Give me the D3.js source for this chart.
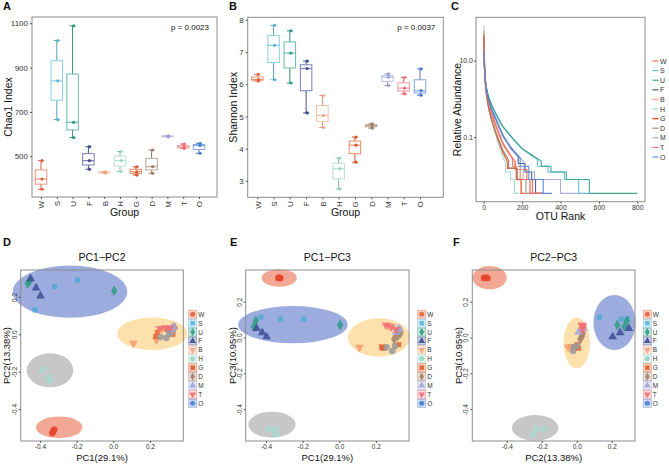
<!DOCTYPE html>
<html>
<head>
<meta charset="utf-8">
<script src="https://cdn.jsdelivr.net/npm/d3@7"></script>
<style>
  body { margin: 0; background: #fff; }
  text { font-family: "Liberation Sans", Arial, sans-serif; }
</style>
</head>
<body>
<svg width="669" height="465"></svg>
<script>
// groups and their colours / shapes
var groups = ["W","S","U","F","B","H","G","D","M","T","O"];
var colors = ["#E8643F","#5BB8D8","#2F9C84","#3C4D94","#F4A582","#98D5C4","#E05A2B","#A2806A","#9EA3D6","#EE6F74","#4F80D2"];
var pointColors = ["#E8432B","#4FA9D6","#2F9C84","#3C4D94","#F79A6C","#A8D8CB","#E8602E","#A2806A","#A4A8D8","#EE6F74","#9A9A9A"];
var shapes = ["circle","square","diamond","tri","tridown","circle","square","diamond","tri","tridown","circle"];

// alpha diversity, 3 samples per group
var chao1 = [[480,397,351],[1022,840,665],[1088,653,584],[543,480,441],[430,427,424],[521,480,431],
             [452,430,415],[528,453,423],[592,590,587],[555,541,535],[558,548,513]];
var shannon = [[6.31,6.15,6.10],[7.83,7.21,6.14],[7.66,6.97,6.04],[6.72,6.49,5.11],[5.65,5.03,4.66],[3.71,3.38,2.75],
               [4.36,4.11,3.58],[4.77,4.72,4.64],[6.32,6.22,5.96],[6.21,5.88,5.70],[6.48,5.80,5.66]];
var chaoTicks = [500,700,900,1100];
var shannonTicks = [3,4,5,6,7,8];

// rank abundance curves [rank, relative abundance %]
var rankW = [[1,62],[3,14],[8,3.6],[14,1.8],[20,1.1],[30,0.7],[40,0.45],[55,0.27],[70,0.17],[85,0.11],[100,0.07],[140,0.033],[165,0.022],[165,0.014],[225,0.014],[225,0.0076],[255,0.0076],[255,0.0033],[300,0.0033]];
var rankS = [[1,28],[3,9],[8,3.2],[14,2],[20,1.4],[30,0.95],[40,0.7],[55,0.47],[70,0.33],[85,0.24],[100,0.18],[150,0.09],[200,0.048],[250,0.032],[280,0.026],[280,0.017],[335,0.017],[335,0.012],[420,0.012],[420,0.0076],[495,0.0076],[495,0.0033],[550,0.0033]];
var rankU = [[1,35],[3,10],[8,3.3],[14,2.1],[20,1.45],[30,0.98],[40,0.72],[55,0.5],[70,0.36],[85,0.26],[100,0.19],[150,0.095],[200,0.05],[250,0.034],[300,0.023],[300,0.017],[350,0.017],[350,0.012],[430,0.012],[430,0.0076],[550,0.0076],[550,0.0033],[800,0.0033]];
var rankF = [[1,20],[3,8],[8,3],[14,1.8],[20,1.25],[30,0.8],[40,0.55],[55,0.36],[70,0.24],[85,0.16],[100,0.11],[140,0.05],[180,0.03],[180,0.02],[215,0.02],[215,0.012],[250,0.012],[250,0.0076],[270,0.0076],[270,0.0033],[310,0.0033]];
var rankB = [[1,25],[3,9],[8,3],[14,1.6],[20,1.0],[30,0.62],[40,0.4],[55,0.24],[70,0.15],[85,0.095],[100,0.065],[130,0.036],[160,0.022],[160,0.014],[205,0.014],[205,0.0076],[245,0.0076],[245,0.0033],[295,0.0033]];
var rankH = [[1,83],[3,10],[8,2.4],[14,1.2],[20,0.75],[30,0.44],[40,0.28],[55,0.15],[70,0.085],[85,0.05],[100,0.03],[115,0.02],[115,0.012],[140,0.012],[140,0.0076],[160,0.0076],[160,0.0033],[185,0.0033]];
var rankG = [[1,48],[3,11],[8,3],[14,1.4],[20,0.85],[30,0.48],[40,0.3],[55,0.17],[70,0.1],[85,0.062],[100,0.04],[125,0.022],[125,0.015],[170,0.015],[170,0.0076],[195,0.0076],[195,0.0033],[215,0.0033]];
var rankD = [[1,40],[3,10],[8,2.8],[14,1.35],[20,0.8],[30,0.48],[40,0.3],[55,0.18],[70,0.11],[85,0.07],[100,0.045],[130,0.025],[130,0.015],[175,0.015],[175,0.0076],[220,0.0076],[220,0.0033],[300,0.0033]];
var rankM = [[1,22],[3,8],[8,3],[14,1.75],[20,1.2],[30,0.75],[40,0.5],[55,0.32],[70,0.22],[85,0.15],[100,0.1],[150,0.045],[210,0.022],[210,0.012],[265,0.012],[265,0.0076],[400,0.0076],[400,0.0033],[495,0.0033]];
var rankT = [[1,30],[3,10],[8,3.2],[14,1.65],[20,1.05],[30,0.65],[40,0.42],[55,0.25],[70,0.16],[85,0.1],[100,0.062],[150,0.028],[150,0.017],[190,0.017],[190,0.0076],[240,0.0076],[240,0.0033],[305,0.0033]];
var rankO = [[1,18],[3,7.5],[8,2.9],[14,1.75],[20,1.2],[30,0.8],[40,0.56],[55,0.38],[70,0.26],[85,0.17],[100,0.11],[140,0.055],[190,0.028],[190,0.017],[235,0.017],[235,0.0076],[310,0.0076],[310,0.0033],[355,0.0033]];
var rankAbund = [rankW,rankS,rankU,rankF,rankB,rankH,rankG,rankD,rankM,rankT,rankO];
var rankTicks = [0,200,400,600,800];
var abundTicks = [10,0.1];

// PCA scores, 3 samples per group
var pc1 = [[-0.333,-0.322,-0.328],[-0.427,-0.32,-0.195],[-0.455,-0.467,0.005],[-0.451,-0.421,-0.397],[0.11,0.235,0.27],[-0.387,-0.351,-0.347],
           [0.232,0.325,0.24],[0.30,0.32,0.335],[0.33,0.32,0.31],[0.255,0.285,0.31],[0.258,0.29,0.305]];
var pc2 = [[-0.53,-0.51,-0.52],[0.13,0.255,0.29],[0.286,0.272,0.232],[0.298,0.248,0.205],[-0.048,-0.03,0.03],[-0.19,-0.232,-0.252],
           [-0.012,0.0,0.01],[0.02,0.03,0.035],[0.04,0.025,0.01],[0.03,0.035,0.032],[-0.015,-0.02,0.0]];
var pc3 = [[0.332,0.331,0.335],[0.113,0.103,0.103],[0.094,0.06,0.07],[0.051,0.027,0.004],[-0.055,-0.05,0.065],[-0.511,-0.511,-0.539],
           [-0.055,-0.04,-0.06],[-0.01,0.008,0.025],[0.05,0.045,0.03],[0.07,0.06,0.045],[-0.055,-0.075,-0.048]];
var pcTicks = [-0.4,-0.2,0.0,0.2];
// cluster ellipses [cx, cy, rx, ry] : blue, orange, grey, red
var ell12 = [[-0.236,0.228,0.3125,0.14],[0.213,0.003,0.191,0.087],[-0.345,-0.193,0.127,0.091],[-0.295,-0.498,0.127,0.058]];
var ell13 = [[-0.253,0.0715,0.299,0.104],[0.217,0.0,0.169,0.107],[-0.368,-0.486,0.129,0.072],[-0.328,0.332,0.096,0.049]];
var ell23 = [[0.216,0.084,0.121,0.154],[0.0,-0.03,0.076,0.142],[-0.238,-0.505,0.133,0.072],[-0.498,0.334,0.098,0.065]];
var ellFill = ["#5B74C8","#FBC35A","#8F8F8F","#E8603C"];
var ellAlpha = [0.6,0.5,0.5,0.55];

var svg = d3.select("svg");

function frame(x0, y0, x1, y1) {
  svg.append("rect").attr("x", x0).attr("y", y0)
    .attr("width", x1 - x0).attr("height", y1 - y0)
    .attr("fill", "none").attr("stroke", "#8c8c8c").attr("stroke-width", 1);
}

function styleAxis(g, size) {
  g.select(".domain").remove();
  g.selectAll(".tick line").attr("stroke", "#555");
  g.selectAll(".tick text").attr("fill", "#333").style("font-size", size + "px");
}

function label(txt, x, y, size, opts) {
  opts = opts || {};
  var t = svg.append("text").attr("x", x).attr("y", y)
    .style("font-size", size + "px").attr("fill", opts.fill || "#111")
    .style("text-anchor", opts.anchor || "start")
    .style("font-weight", opts.bold ? "bold" : "normal")
    .text(txt);
  if (opts.rot) t.attr("transform", "rotate(-90," + x + "," + y + ")");
  return t;
}

function symbolPath(s, size) {
  var type = {circle: d3.symbolCircle, square: d3.symbolSquare, diamond: d3.symbolDiamond,
              tri: d3.symbolTriangle, tridown: d3.symbolTriangle}[s];
  return d3.symbol().type(type).size(size)();
}

// ---------- box plots (A, B) ----------
function boxPanel(o) {
  var x = d3.scalePoint().domain(groups).range(o.xr);
  var y = d3.scaleLinear().domain(o.ydom).range([o.y1, o.y0]);
  var bw = 11.5, cw = 6;
  var g = svg.append("g");
  o.vals.forEach(function(vals, i) {
    var v = vals.slice().sort(d3.ascending);
    var q1 = d3.quantile(v, 0.25), med = d3.quantile(v, 0.5), q3 = d3.quantile(v, 0.75);
    var cx = x(groups[i]);
    var dark = d3.color(colors[i]).darker(0.6).formatHex();
    var light = d3.interpolateRgb(colors[i], "#fff")(0.3);
    g.append("line").attr("x1", cx).attr("x2", cx).attr("y1", y(v[0])).attr("y2", y(v[2]))
      .attr("stroke", dark).attr("stroke-width", 0.9);
    [v[0], v[2]].forEach(function(c) {
      g.append("line").attr("x1", cx - cw / 2).attr("x2", cx + cw / 2).attr("y1", y(c)).attr("y2", y(c))
        .attr("stroke", dark).attr("stroke-width", 0.9);
    });
    g.append("rect").attr("x", cx - bw / 2).attr("width", bw)
      .attr("y", y(q3)).attr("height", Math.max(0.5, y(q1) - y(q3)))
      .attr("fill", "#fff").attr("stroke", light).attr("stroke-width", 1);
    g.append("line").attr("x1", cx - bw / 2).attr("x2", cx + bw / 2).attr("y1", y(med)).attr("y2", y(med))
      .attr("stroke", light).attr("stroke-width", 1.2);
    v.forEach(function(p) {
      g.append("circle").attr("cx", cx + 1).attr("cy", y(p)).attr("r", 1.6).attr("fill", colors[i]);
    });
  });
  frame(o.fx0, o.y0, o.fx1, o.y1);
  var ya = svg.append("g").attr("transform", "translate(" + o.fx0 + ",0)")
    .call(d3.axisLeft(y).tickValues(o.ticks).tickFormat(d3.format("d")).tickSize(2).tickPadding(2));
  styleAxis(ya, 8);
  var xa = svg.append("g").attr("transform", "translate(0," + o.y1 + ")")
    .call(d3.axisBottom(x).tickSize(2));
  styleAxis(xa, 8);
  xa.selectAll(".tick text").attr("transform", "rotate(-90)")
    .attr("x", -4).attr("y", 0).attr("dy", "0.35em").style("text-anchor", "end");
  label(o.ytitle, o.ytx, (o.y0 + o.y1) / 2, 10.5, {anchor: "middle", rot: true});
  label("Group", (o.fx0 + o.fx1) / 2, 215.5, 10.5, {anchor: "middle"});
  label(o.ptext, o.fx1 - 8, 29.5, 8, {anchor: "end"});
  label(o.letter, o.lx, 10, 11, {bold: true});
}

boxPanel({vals: chao1, xr: [41, 199], ydom: [316, 1128], y0: 17, y1: 197, fx0: 32, fx1: 217,
  ticks: chaoTicks, ytitle: "Chao1 Index", ytx: 11.5, ptext: "p = 0.0023", letter: "A", lx: 3});
boxPanel({vals: shannon, xr: [257.3, 420], ydom: [2.49, 8.08], y0: 17.3, y1: 197.3, fx0: 247.7, fx1: 443.3,
  ticks: shannonTicks, ytitle: "Shannon Index", ytx: 237.5, ptext: "p = 0.0037", letter: "B", lx: 229});

// ---------- rank abundance (C) ----------
(function() {
  var x0 = 476, x1 = 645, y0 = 17.3, y1 = 201.7;
  var x = d3.scaleLinear().domain([-40, 840]).range([x0, x1]);
  var y = d3.scaleLog().domain([Math.pow(10, -2.70), Math.pow(10, 2.14)]).range([y1, y0]);
  var line = d3.line().x(function(d) { return x(d[0]); }).y(function(d) { return y(d[1]); });
  rankAbund.forEach(function(s, i) {
    svg.append("path").attr("d", line(s)).attr("fill", "none")
      .attr("stroke", colors[i]).attr("stroke-width", i === 6 ? 1.4 : 1.1).attr("stroke-opacity", 0.9);
  });
  frame(x0, y0, x1, y1);
  var ya = svg.append("g").attr("transform", "translate(" + x0 + ",0)")
    .call(d3.axisLeft(y).tickValues(abundTicks).tickFormat(d3.format(".1f")).tickSize(2).tickPadding(1));
  styleAxis(ya, 7);
  var xa = svg.append("g").attr("transform", "translate(0," + y1 + ")")
    .call(d3.axisBottom(x).tickValues(rankTicks).tickSize(2).tickPadding(1));
  styleAxis(xa, 7);
  label("Relative Abundance", 461, (y0 + y1) / 2, 10.5, {anchor: "middle", rot: true});
  label("OTU Rank", (x0 + x1) / 2, 220, 10.5, {anchor: "middle"});
  label("C", 451, 10, 11, {bold: true});
  groups.forEach(function(gname, i) {
    var ly = 61 + i * 9.6;
    svg.append("line").attr("x1", 652.5).attr("x2", 658.5).attr("y1", ly).attr("y2", ly)
      .attr("stroke", colors[i]).attr("stroke-width", i === 6 ? 1.6 : 1.1);
    label(gname, 660, ly + 2.5, 7, {fill: "#333"});
  });
})();

// ---------- PCA (D, E, F) ----------
function pcaPanel(o) {
  var x = d3.scaleLinear().domain(o.xdom).range([o.x0, o.x1]);
  var y = d3.scaleLinear().domain(o.ydom).range([o.y1, o.y0]);
  o.ell.forEach(function(e, k) {
    svg.append("ellipse").attr("cx", x(e[0])).attr("cy", y(e[1]))
      .attr("rx", x(e[0] + e[2]) - x(e[0])).attr("ry", y(e[1]) - y(e[1] + e[3]))
      .attr("fill", ellFill[k]).attr("fill-opacity", ellAlpha[k]);
  });
  groups.forEach(function(gname, i) {
    o.xs[i].forEach(function(v, j) {
      var rot = shapes[i] === "tridown" ? " rotate(180)" : "";
      svg.append("path").attr("d", symbolPath(shapes[i], shapes[i] === "square" ? 26 : 34))
        .attr("transform", "translate(" + x(v) + "," + y(o.ys[i][j]) + ")" + rot)
        .attr("fill", pointColors[i]).attr("fill-opacity", 0.85);
    });
  });
  frame(o.x0, o.y0, o.x1, o.y1);
  var xa = svg.append("g").attr("transform", "translate(0," + o.y1 + ")")
    .call(d3.axisBottom(x).tickValues(pcTicks).tickFormat(function(d) { return d.toFixed(1); }).tickSize(2).tickPadding(1));
  styleAxis(xa, 6.5);
  var ya = svg.append("g").attr("transform", "translate(" + o.x0 + ",0)")
    .call(d3.axisLeft(y).tickValues(pcTicks).tickFormat(function(d) { return d.toFixed(1); }).tickSize(2));
  styleAxis(ya, 6.5);
  ya.selectAll(".tick text").attr("transform", "rotate(-90)")
    .attr("x", 0).attr("y", -4).attr("dy", 0).style("text-anchor", "middle");
  var cx = (o.x0 + o.x1) / 2;
  label(o.title, cx, 260.5, 10.5, {anchor: "middle"});
  label(o.xlab, cx, 461, 9.5, {anchor: "middle"});
  label(o.ylab, o.ylx, (o.y0 + o.y1) / 2, 9.5, {anchor: "middle", rot: true});
  label(o.letter, o.lx, 246, 11, {bold: true});
  groups.forEach(function(gname, i) {
    var ky = 314.3 + i * 8.9;
    svg.append("rect").attr("x", o.kx - 4).attr("y", ky - 4).attr("width", 8).attr("height", 8)
      .attr("fill", colors[i]).attr("fill-opacity", 0.25)
      .attr("stroke", colors[i]).attr("stroke-opacity", 0.55).attr("stroke-width", 0.8);
    var rot = shapes[i] === "tridown" ? " rotate(180)" : "";
    svg.append("path").attr("d", symbolPath(shapes[i], 20))
      .attr("transform", "translate(" + o.kx + "," + ky + ")" + rot)
      .attr("fill", colors[i]).attr("fill-opacity", 0.9);
    label(gname, o.kx + 5.5, ky + 2.4, 6.5, {fill: "#333"});
  });
}

pcaPanel({xs: pc1, ys: pc2, ell: ell12, x0: 20.7, x1: 183.3, y0: 270, y1: 441,
  xdom: [-0.505, 0.382], ydom: [-0.571, 0.344], title: "PC1\u2212PC2",
  xlab: "PC1(29.1%)", ylab: "PC2(13.38%)", ylx: 9.5, letter: "D", lx: 3, kx: 192.7});
pcaPanel({xs: pc1, ys: pc3, ell: ell13, x0: 245.7, x1: 409, y0: 270, y1: 441,
  xdom: [-0.511, 0.381], ydom: [-0.578, 0.377], title: "PC1\u2212PC3",
  xlab: "PC1(29.1%)", ylab: "PC3(10.95%)", ylx: 235.5, letter: "E", lx: 230, kx: 421.7});
pcaPanel({xs: pc2, ys: pc3, ell: ell23, x0: 472.3, x1: 635, y0: 270, y1: 441,
  xdom: [-0.597, 0.333], ydom: [-0.578, 0.377], title: "PC2\u2212PC3",
  xlab: "PC2(13.38%)", ylab: "PC3(10.95%)", ylx: 461.5, letter: "F", lx: 453, kx: 647.3});
</script>
</body>
</html>
